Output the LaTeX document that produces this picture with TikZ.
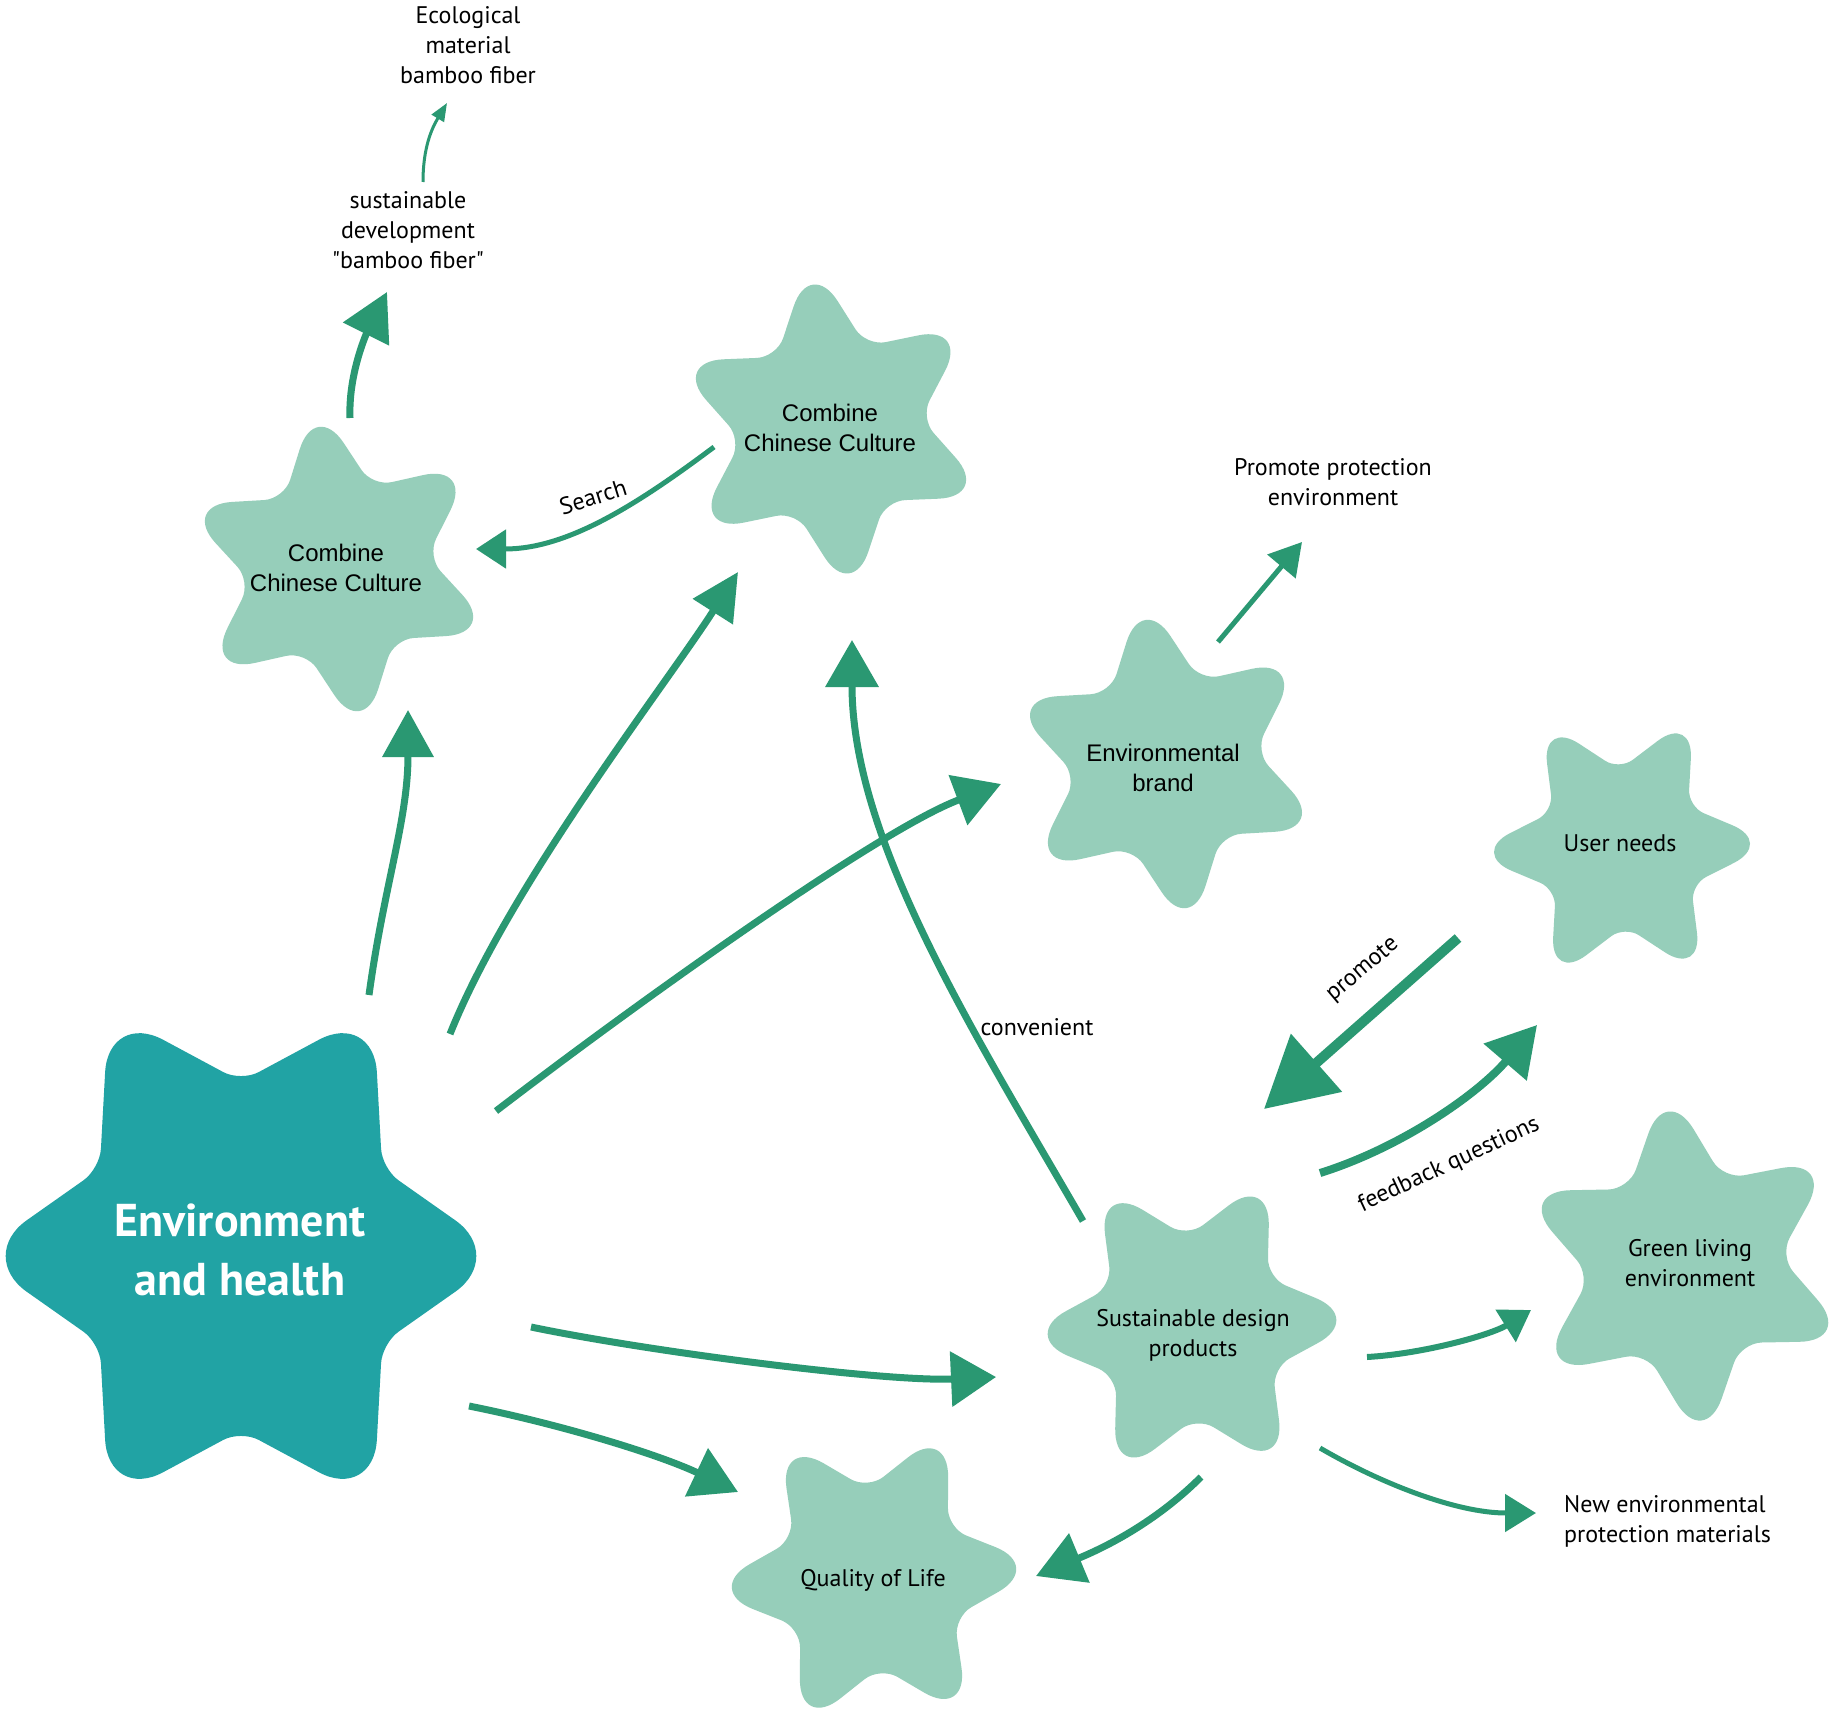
\documentclass[tikz,border=0pt]{standalone}
\usepackage{fontspec}
\setmainfont{PT Sans}
\newfontfamily\arialf{Liberation Sans}
\usetikzlibrary{arrows.meta}
\definecolor{teal1}{RGB}{33,163,164}
\definecolor{mint}{RGB}{150,206,186}
\definecolor{agreen}{RGB}{42,152,114}
\newcommand{\qmark}{\XeTeXglyph\XeTeXcharglyph"0022\relax}
% #1 cx, #2 cy, #3 R, #4 r, #5 rotation, #6 tip rounding, #7 valley rounding, #8 fill colour
\newcommand{\rstar}[8]{%
\fill[#8,rounded corners=#6pt]
 ({#1+0.5*(#3*cos(#5)+#4*cos(#5-30))},{#2-0.5*(#3*sin(#5)+#4*sin(#5-30))})
 -- ({#1+#3*cos(#5)},{#2-#3*sin(#5)}) [rounded corners=#7pt]
 -- ({#1+#4*cos(#5+30)},{#2-#4*sin(#5+30)}) [rounded corners=#6pt]
 -- ({#1+#3*cos(#5+60)},{#2-#3*sin(#5+60)}) [rounded corners=#7pt]
 -- ({#1+#4*cos(#5+90)},{#2-#4*sin(#5+90)}) [rounded corners=#6pt]
 -- ({#1+#3*cos(#5+120)},{#2-#3*sin(#5+120)}) [rounded corners=#7pt]
 -- ({#1+#4*cos(#5+150)},{#2-#4*sin(#5+150)}) [rounded corners=#6pt]
 -- ({#1+#3*cos(#5+180)},{#2-#3*sin(#5+180)}) [rounded corners=#7pt]
 -- ({#1+#4*cos(#5+210)},{#2-#4*sin(#5+210)}) [rounded corners=#6pt]
 -- ({#1+#3*cos(#5+240)},{#2-#3*sin(#5+240)}) [rounded corners=#7pt]
 -- ({#1+#4*cos(#5+270)},{#2-#4*sin(#5+270)}) [rounded corners=#6pt]
 -- ({#1+#3*cos(#5+300)},{#2-#3*sin(#5+300)}) [rounded corners=#7pt]
 -- ({#1+#4*cos(#5+330)},{#2-#4*sin(#5+330)}) [sharp corners]
 -- cycle;}
\tikzset{
  conn/.style={draw=agreen, line width=#1},
  hd/.style 2 args={-{Triangle[length=#1,width=#2]}},
  lbl/.style={font=\fontsize{24}{30}\selectfont, align=center, inner sep=0pt},
  starlbl/.style={font=\arialf\fontsize{24}{30}\selectfont, align=center, inner sep=0pt},
  bigl/.style={font=\bfseries\fontsize{46}{59}\selectfont, text=white, align=center, inner sep=0pt},
}
\begin{document}
\begin{tikzpicture}[x=1pt,y=-1pt]
\useasboundingbox (0,0) rectangle (1830,1720);
\fill[white] (0,0) rectangle (1830,1720);

% ---------- stars ----------
\begin{scope}[shift={(241,1256)}, yscale=1.07]
\rstar{0}{0}{265}{163}{0}{62}{20}{fill=teal1}
\end{scope}
\rstar{339}{569}{171}{89}{38}{52}{20}{fill=mint}
\rstar{831}{429}{173}{90}{37}{52}{20}{fill=mint}
\rstar{1166}{764}{173}{90}{38}{52}{20}{fill=mint}
\rstar{1622}{848}{152}{78}{2}{45}{17}{fill=mint}
\rstar{1685}{1266}{184}{95}{36}{54}{21}{fill=mint}
\rstar{1192}{1327}{172}{90}{3}{52}{20}{fill=mint}
\rstar{874}{1578}{170}{89}{4}{52}{20}{fill=mint}

% ---------- labels in stars ----------
\node[bigl] (env) at (240,1250) {Environment\\and health};
\node[starlbl] (ccl) at (336,568) {Combine\\Chinese Culture};
\node[starlbl] (cct) at (830,428) {Combine\\Chinese Culture};
\node[starlbl] (brand) at (1163,768) {Environmental\\brand};
\node[lbl] (user) at (1620,843) {User needs};
\node[lbl] (green) at (1690,1263) {Green living\\environment};
\node[lbl] (sust) at (1193,1335) {Sustainable design\\products};
\node[lbl] (qol) at (873,1580) {Quality of Life};

% ---------- free texts ----------
\node[lbl] (eco) at (468,45) {Ecological\\material\\bamboo fiber};
\node[lbl] (sdev) at (408,230) {sustainable\\development\\\qmark bamboo fiber\qmark};
\node[lbl] (ppe) at (1333,482) {Promote protection\\environment};
\node[lbl, anchor=west, align=left] (nem) at (1564,1521) {New environmental\\protection materials};

% ---------- connector end points ----------
\coordinate (envA) at (369,995);   \coordinate (cclB) at (408,710);
\coordinate (envC) at (450,1034);  \coordinate (cctB) at (738,572);
\coordinate (envD) at (496,1111);  \coordinate (brandB) at (1001,784);
\coordinate (envE) at (531,1327);  \coordinate (sustB) at (996,1377);
\coordinate (envF) at (469,1406);  \coordinate (qolB) at (738,1492);
\coordinate (sustT) at (1083,1221);\coordinate (cctC) at (852,640);
\coordinate (cctS) at (714,447);   \coordinate (cclR) at (476,549);
\coordinate (cclT) at (350,418);   \coordinate (sdevB) at (387,292);
\coordinate (sdevT) at (423,182);  \coordinate (ecoB) at (447,103);
\coordinate (brandT) at (1218,642);\coordinate (ppeB) at (1302,542);
\coordinate (userL) at (1458,938); \coordinate (sustU) at (1264,1109);
\coordinate (sustF) at (1320,1173);\coordinate (userB) at (1537,1025);
\coordinate (sustR) at (1367,1357);\coordinate (greenB) at (1531,1310);
\coordinate (sustN) at (1320,1448);\coordinate (nemB) at (1536,1513);
\coordinate (sustQ) at (1201,1477);\coordinate (qolR) at (1036,1576);

% ---------- connectors ----------
\draw[conn=7pt, hd={47pt}{50pt}] (envA) .. controls +(15,-110) and +(0,110) .. (cclB);
\draw[conn=7pt, hd={47pt}{46pt}] (envC) .. controls +(60,-150) and +(-70,110) .. (cctB);
\draw[conn=7pt, hd={46pt}{52pt}] (envD) .. controls +(150,-115) and +(-120,45) .. (brandB);
\draw[conn=7pt, hd={45pt}{54pt}] (envE) .. controls +(120,25) and +(-110,5) .. (sustB);
\draw[conn=7pt, hd={46pt}{52pt}] (envF) .. controls +(90,18) and +(-80,-38) .. (qolB);
\draw[conn=7pt, hd={47pt}{52pt}] (sustT) .. controls +(-110,-190) and +(0,200) .. (cctC);
\draw[conn=5pt, hd={30pt}{38pt}] (cctS) .. controls +(-80,60) and +(90,0) .. (cclR);
\draw[conn=7pt, hd={47pt}{50pt}] (cclT) .. controls +(-2,-50) and +(-15,30) .. (sdevB);
\draw[conn=3pt, hd={18pt}{14pt}] (sdevT) .. controls +(0,-35) and +(-15,25) .. (ecoB);
\draw[conn=5pt, hd={32pt}{36pt}] (brandT) -- (ppeB);
\draw[conn=10pt, hd={70pt}{75pt}] (userL) -- (sustU);
\draw[conn=8pt, hd={49pt}{55pt}] (sustF) .. controls +(80,-25) and +(-60,70) .. (userB);
\draw[conn=6pt, hd={30pt}{37pt}] (sustR) .. controls +(55,-3) and +(-40,25) .. (greenB);
\draw[conn=5pt, hd={31pt}{37pt}] (sustN) .. controls +(60,35) and +(-80,0) .. (nemB);
\draw[conn=7pt, hd={47pt}{52pt}] (sustQ) .. controls +(-50,50) and +(60,-25) .. (qolR);

% ---------- connector labels ----------
\node[lbl, rotate=17.5] (lsearch) at (593,497) {Search};
\node[lbl] (lconv) at (1037,1027) {convenient};
\node[lbl, rotate=40] (lprom) at (1363,970) {promote};
\node[lbl, rotate=25] (lfeed) at (1449,1165) {feedback questions};
\end{tikzpicture}
\end{document}
